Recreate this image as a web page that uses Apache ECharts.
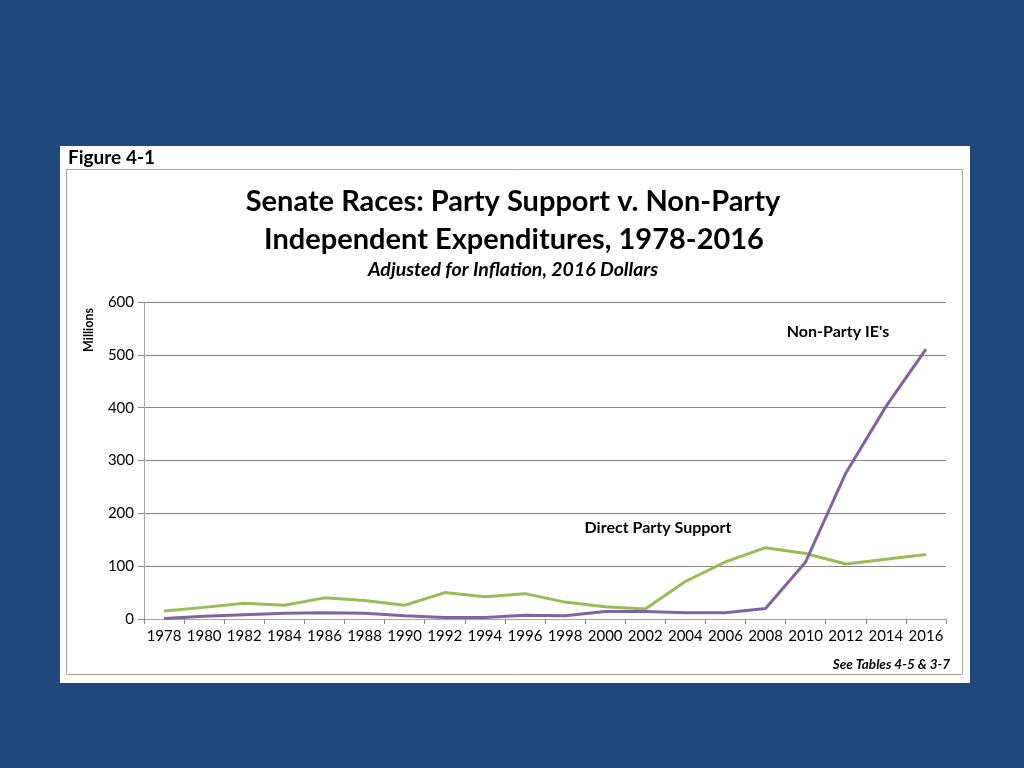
<!DOCTYPE html>
<html>
<head>
<meta charset="utf-8">
<script src="https://cdn.jsdelivr.net/npm/echarts@6/dist/echarts.min.js"></script>
<style>
  html, body { margin: 0; padding: 0; background: #1F497D; }
  #chart { width: 1024px; height: 768px; }
</style>
</head>
<body>
<div id="chart"></div>
<script>
const years = ['1978','1980','1982','1984','1986','1988','1990','1992','1994','1996',
               '1998','2000','2002','2004','2006','2008','2010','2012','2014','2016'];
const directPartySupport = [15, 22, 30, 26, 40, 35, 26, 50, 42, 48,
                            32, 23, 19, 71, 108, 135, 124, 104, 113, 122];
const nonPartyIEs = [1, 5, 8, 11, 12, 11, 6, 3, 3, 7,
                     6, 14, 14, 12, 12, 20, 108, 276, 402, 511];
const yTicks = [0, 100, 200, 300, 400, 500, 600];

const FONT = 'Lato, "Open Sans", sans-serif';
const chart = echarts.init(document.getElementById('chart'), null, { renderer: 'canvas' });

chart.setOption({
  backgroundColor: '#1F497D',
  animation: false,
  graphic: [
    { type: 'rect', z: -10, shape: { x: 60, y: 146, width: 910, height: 537 }, style: { fill: '#FFFFFF' } },
    { type: 'rect', z: -9, shape: { x: 66.5, y: 169.5, width: 896, height: 505 }, style: { fill: '#FFFFFF', stroke: '#A6A6A6', lineWidth: 1 } },
    { type: 'text', x: 68, y: 158, style: { text: 'Figure 4-1', font: 'bold 19px ' + FONT, fill: '#000', textVerticalAlign: 'middle' } },
    { type: 'text', x: 513, y: 202, style: { text: 'Senate Races: Party Support v. Non-Party', font: 'bold 29px ' + FONT, fill: '#000', textAlign: 'center', textVerticalAlign: 'middle' } },
    { type: 'text', x: 514, y: 240, style: { text: 'Independent Expenditures, 1978-2016', font: 'bold 29px ' + FONT, fill: '#000', textAlign: 'center', textVerticalAlign: 'middle' } },
    { type: 'text', x: 513, y: 270, style: { text: 'Adjusted for Inflation, 2016 Dollars', font: 'italic bold 19.5px ' + FONT, fill: '#000', textAlign: 'center', textVerticalAlign: 'middle' } },
    { type: 'text', x: 89, y: 330, rotation: Math.PI / 2, style: { text: 'Millions', font: 'bold 12.5px ' + FONT, fill: '#000', textAlign: 'center', textVerticalAlign: 'middle' } },
    { type: 'text', x: 950, y: 665, style: { text: 'See Tables 4-5 & 3-7', font: 'italic bold 13.5px ' + FONT, fill: '#000', textAlign: 'right', textVerticalAlign: 'middle' } },
    { type: 'text', x: 838, y: 332, style: { text: "Non-Party IE's", font: 'bold 16px ' + FONT, fill: '#000', textAlign: 'center', textVerticalAlign: 'middle' } },
    { type: 'text', x: 658, y: 528, style: { text: 'Direct Party Support', font: 'bold 16px ' + FONT, fill: '#000', textAlign: 'center', textVerticalAlign: 'middle' } }
  ],
  grid: { left: 144, right: 78, top: 302, bottom: 149, containLabel: false },
  xAxis: {
    type: 'category',
    data: years,
    boundaryGap: true,
    axisLine: { show: true, lineStyle: { color: '#A6A6A6', width: 1 } },
    axisTick: { show: true, length: 5, inside: false, lineStyle: { color: '#868686' } },
    axisLabel: { color: '#000', fontSize: 15, fontFamily: FONT, margin: 10, interval: 0 },
    splitLine: { show: false }
  },
  yAxis: {
    type: 'value',
    min: yTicks[0],
    max: yTicks[yTicks.length - 1],
    interval: 100,
    axisLine: { show: true, lineStyle: { color: '#A6A6A6', width: 1 } },
    axisTick: { show: true, length: 6, lineStyle: { color: '#868686' } },
    axisLabel: { color: '#000', fontSize: 15, fontFamily: FONT, margin: 10 },
    splitLine: { show: true, lineStyle: { color: '#868686', width: 1 } }
  },
  series: [
    {
      name: 'Direct Party Support',
      type: 'line',
      data: directPartySupport,
      symbol: 'none',
      lineStyle: { color: '#9BBB59', width: 3 },
      itemStyle: { color: '#9BBB59' },
      z: 3
    },
    {
      name: "Non-Party IE's",
      type: 'line',
      data: nonPartyIEs,
      symbol: 'none',
      lineStyle: { color: '#8064A2', width: 3 },
      itemStyle: { color: '#8064A2' },
      z: 4
    }
  ]
});
</script>
</body>
</html>
